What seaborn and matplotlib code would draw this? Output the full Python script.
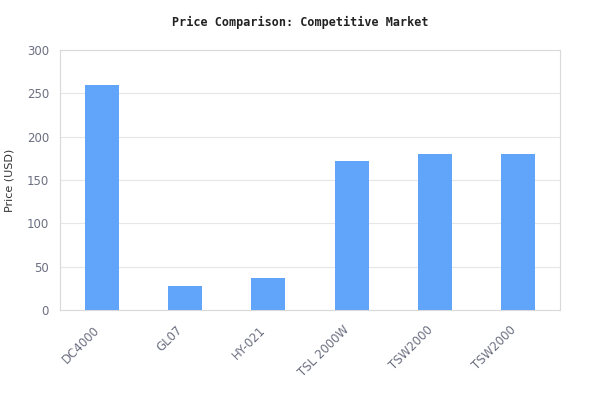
import matplotlib
matplotlib.use("Agg")
import matplotlib.pyplot as plt
import matplotlib.transforms as mtransforms
import seaborn as sns
import pandas as pd

categories = ["DC4000", "GL07", "HY-021", "TSL 2000W", "TSW2000", "TSW2000"]
prices = [260, 28, 37, 172, 180, 180]
y_ticks = [0, 50, 100, 150, 200, 250, 300]

sns.set_style("white")
plt.rcParams['font.family'] = ['DejaVu Sans']

df = pd.DataFrame({"pos": list(range(len(categories))), "price": prices})

fig = plt.figure(figsize=(6, 4.2), dpi=100)
ax = fig.add_axes([60/600, 1 - 310/420, 500/600, 260/420])
sns.barplot(data=df, x="pos", y="price", color="#60A5FA", width=0.41,
            saturation=1, linewidth=0, ax=ax, zorder=3)
ax.set_ylim(0, 300)
ax.set_yticks(y_ticks)
ax.set_xticks(range(len(categories)))
ax.set_xticklabels(categories, rotation=45, ha="right", rotation_mode="anchor")
ax.grid(axis="y", color="#e6e6e6", linewidth=0.8, zorder=0)
ax.set_axisbelow(True)
for s in ax.spines.values():
    s.set_color("#d9d9d9")
    s.set_linewidth(0.8)
ax.tick_params(axis="both", length=0, labelsize=8.5, colors="#6b6f80")
ax.tick_params(axis="y", pad=8)
ax.tick_params(axis="x", pad=12)
offset = mtransforms.ScaledTranslation(-0.09, 0.03, fig.dpi_scale_trans)
for lab in ax.get_xticklabels():
    lab.set_transform(lab.get_transform() + offset)
ax.set_xlabel("")
ax.set_ylabel("Price (USD)", fontsize=8, color="#333333", labelpad=9)
fig.text(0.5, 1 - 22/420, "Price Comparison: Competitive Market", ha="center", va="center",
         fontsize=8.5, fontweight="bold", family="DejaVu Sans Mono", color="#222222")
fig.savefig("out.png", dpi=100)
